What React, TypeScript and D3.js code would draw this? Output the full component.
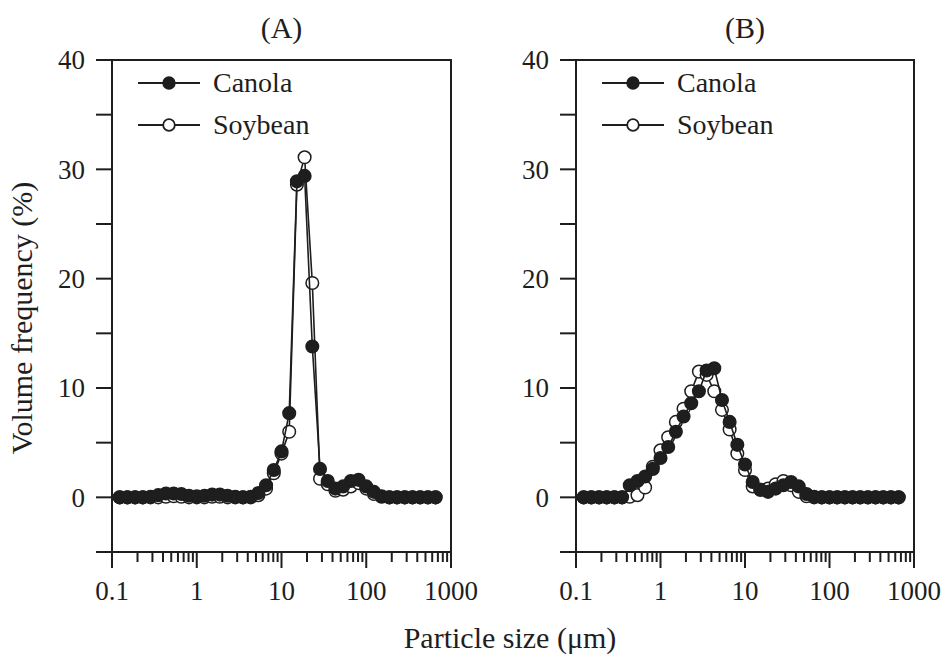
import { useEffect, useRef } from "react"
import * as d3 from "d3"

// particle size channels (um), ~11 per decade
const sizes = [
  0.1233, 0.152, 0.1874, 0.231, 0.2848, 0.3511, 0.4329, 0.5337, 0.6579, 0.8111,
  1.0, 1.233, 1.52, 1.874, 2.31, 2.848, 3.511, 4.329, 5.337, 6.579, 8.111,
  10.0, 12.33, 15.2, 18.74, 23.1, 28.48, 35.11, 43.29, 53.37, 65.79, 81.11,
  100.0, 123.3, 152.0, 187.4, 231.0, 284.8, 351.1, 432.9, 533.7, 657.9,
]

// panel (A)
const canolaA = [
  0, 0, 0, 0, 0.05, 0.2, 0.35, 0.35, 0.3, 0.15,
  0.1, 0.15, 0.25, 0.25, 0.15, 0.05, 0, 0.05, 0.4, 1.1, 2.5,
  4.2, 7.7, 28.9, 29.4, 13.8, 2.6, 1.5, 0.8, 1.0, 1.5, 1.6,
  1.0, 0.5, 0.1, 0, 0, 0, 0, 0, 0, 0,
]
const soybeanA = [
  0, 0, 0, 0, 0, 0, 0.05, 0.1, 0.05, 0,
  0, 0, 0.05, 0.05, 0, 0, 0, 0, 0.2, 0.8, 2.2,
  4.0, 6.0, 28.6, 31.1, 19.6, 1.7, 1.2, 0.6, 0.7, 1.0, 1.3,
  0.8, 0.3, 0.05, 0, 0, 0, 0, 0, 0, 0,
]

// panel (B)
const canolaB = [
  0, 0, 0, 0, 0, 0, 1.1, 1.5, 1.9, 2.6,
  3.6, 4.6, 6.0, 7.4, 8.6, 9.7, 11.6, 11.8, 8.9, 6.9, 4.8,
  3.0, 1.4, 0.7, 0.5, 0.8, 1.1, 1.4, 1.0, 0.3, 0.05, 0,
  0, 0, 0, 0, 0, 0, 0, 0, 0, 0,
]
const soybeanB = [
  0, 0, 0, 0, 0, 0, 0.05, 0.2, 0.9, 2.8,
  4.3, 5.5, 6.9, 8.1, 9.7, 11.5, 11.2, 9.7, 8.0, 6.2, 4.0,
  2.5, 1.0, 0.7, 0.8, 1.2, 1.5, 1.1, 0.5, 0.1, 0, 0,
  0, 0, 0, 0, 0, 0, 0, 0, 0, 0,
]

const xTicks = [0.1, 1, 10, 100, 1000]
const xTickLabels = ["0.1", "1", "10", "100", "1000"]
const yTicks = [0, 10, 20, 30, 40]
const yMinorTicks = [-5, 0, 5, 10, 15, 20, 25, 30, 35, 40]
const panelTitles = ["(A)", "(B)"]
const seriesNames = ["Canola", "Soybean"]

export default function App() {
  const ref = useRef<SVGSVGElement>(null)

  useEffect(() => {
    const svg = d3.select(ref.current)
    svg.selectAll("*").remove()

    const font = "'Liberation Serif', 'Times New Roman', serif"
    const ink = "#1e1e1e"
    const top = 60
    const height = 492
    const r = 6.3

    const panels = [
      { left: 112, width: 339, canola: canolaA, soybean: soybeanA },
      { left: 576, width: 338, canola: canolaB, soybean: soybeanB },
    ]

    panels.forEach((p, pi) => {
      const g = svg.append("g").attr("transform", `translate(${p.left},${top})`)
      const x = d3.scaleLog().domain([0.1, 1000]).range([0, p.width])
      const y = d3.scaleLinear().domain([-5, 40]).range([height, 0])

      // title
      g.append("text")
        .attr("x", p.width / 2)
        .attr("y", -22)
        .attr("text-anchor", "middle")
        .style("font-family", font)
        .style("font-size", "30px")
        .style("fill", ink)
        .text(panelTitles[pi])

      // frame
      g.append("rect")
        .attr("width", p.width)
        .attr("height", height)
        .style("fill", "none")
        .style("stroke", ink)
        .style("stroke-width", 2)

      // x ticks, major + minor
      x.ticks().forEach(t => {
        const major = Math.abs(Math.log10(t) - Math.round(Math.log10(t))) < 1e-6
        g.append("line")
          .attr("x1", x(t)).attr("x2", x(t))
          .attr("y1", height).attr("y2", height + (major ? 16 : 10))
          .style("stroke", ink)
          .style("stroke-width", 2)
      })
      xTicks.forEach((t, i) => {
        g.append("text")
          .attr("x", x(t))
          .attr("y", height + 48)
          .attr("text-anchor", "middle")
          .style("font-family", font)
          .style("font-size", "27px")
          .style("fill", ink)
          .text(xTickLabels[i])
      })

      // y ticks
      yMinorTicks.forEach(t => {
        g.append("line")
          .attr("x1", -16).attr("x2", 0)
          .attr("y1", y(t)).attr("y2", y(t))
          .style("stroke", ink)
          .style("stroke-width", 2)
      })
      yTicks.forEach(t => {
        g.append("text")
          .attr("x", -27)
          .attr("y", y(t))
          .attr("dy", "0.34em")
          .attr("text-anchor", "end")
          .style("font-family", font)
          .style("font-size", "27px")
          .style("fill", ink)
          .text(String(t))
      })

      const line = d3.line<number>()
        .x((d, i) => x(sizes[i]))
        .y(d => y(d))

      // soybean first, canola drawn on top
      const series = [
        { values: p.soybean, fill: "#fff" },
        { values: p.canola, fill: ink },
      ]
      series.forEach(s => {
        g.append("path")
          .attr("d", line(s.values))
          .style("fill", "none")
          .style("stroke", ink)
          .style("stroke-width", 1.6)
        g.selectAll(null)
          .data(s.values)
          .enter()
          .append("circle")
          .attr("cx", (d, i) => x(sizes[i]))
          .attr("cy", d => y(d))
          .attr("r", r)
          .style("fill", s.fill)
          .style("stroke", ink)
          .style("stroke-width", 1.5)
      })

      // legend
      seriesNames.forEach((name, i) => {
        const ly = 23 + i * 42
        g.append("line")
          .attr("x1", 26).attr("x2", 88)
          .attr("y1", ly).attr("y2", ly)
          .style("stroke", ink)
          .style("stroke-width", 2)
        g.append("circle")
          .attr("cx", 57)
          .attr("cy", ly)
          .attr("r", 5.8)
          .style("fill", i === 0 ? ink : "#fff")
          .style("stroke", ink)
          .style("stroke-width", 1.8)
        g.append("text")
          .attr("x", 101)
          .attr("y", ly)
          .attr("dy", "0.33em")
          .style("font-family", font)
          .style("font-size", "28px")
          .style("fill", ink)
          .text(name)
      })
    })

    // shared axis titles
    svg.append("text")
      .attr("transform", `translate(32,318) rotate(-90)`)
      .attr("text-anchor", "middle")
      .style("font-family", font)
      .style("font-size", "30px")
      .style("fill", ink)
      .text("Volume frequency (%)")

    svg.append("text")
      .attr("x", 510)
      .attr("y", 648)
      .attr("text-anchor", "middle")
      .style("font-family", font)
      .style("font-size", "30px")
      .style("fill", ink)
      .text("Particle size (μm)")
  }, [])

  return (
    <svg
      ref={ref}
      width={948}
      height={661}
      style={{ position: "absolute", left: 0, top: 0, background: "#fff" }}
    />
  )
}
